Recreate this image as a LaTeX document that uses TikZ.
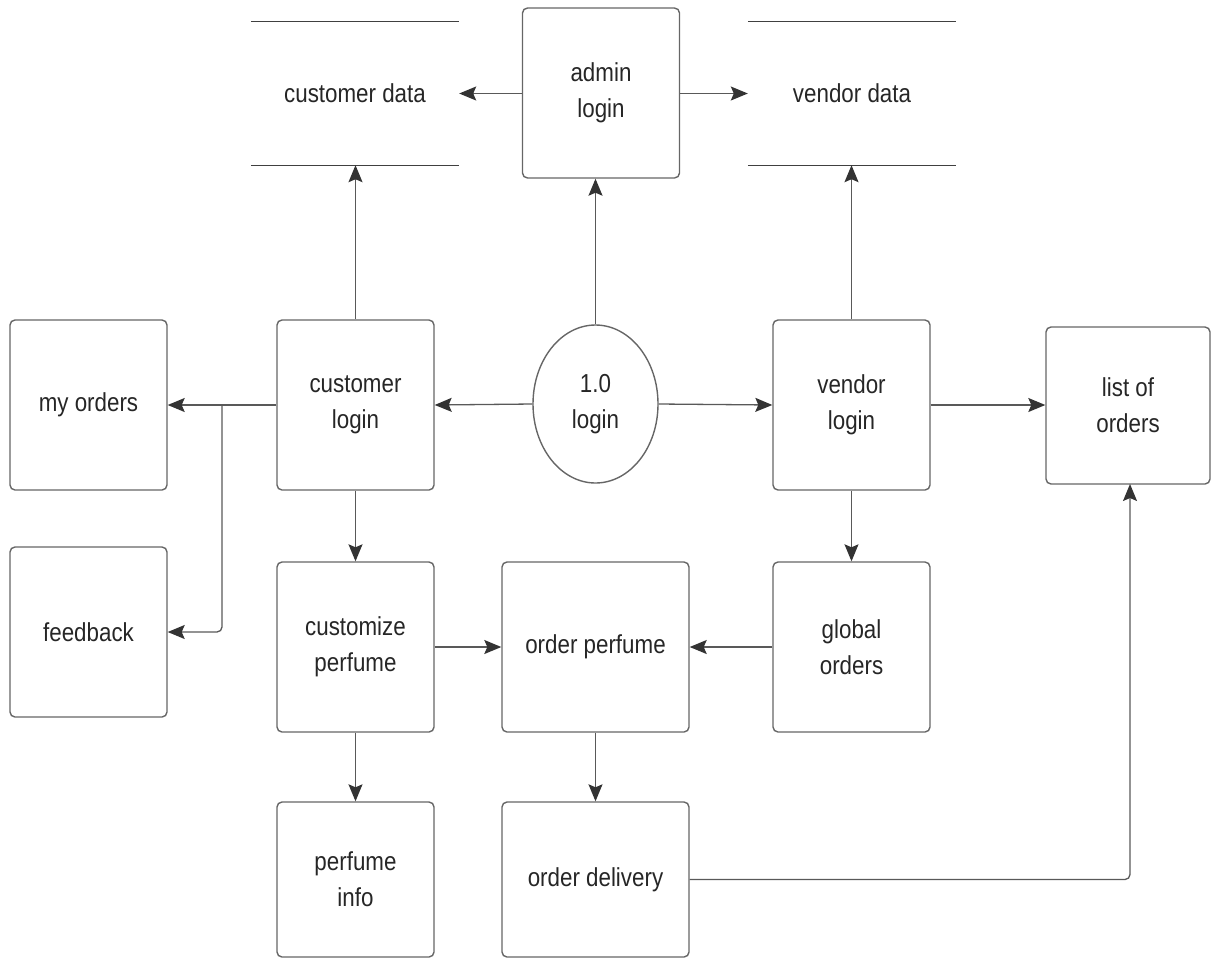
\documentclass[tikz,border=0pt]{standalone}
\usepackage{fontspec}
\setmainfont{Liberation Sans}[FakeStretch=0.86]
\usetikzlibrary{arrows.meta,shapes.geometric}
\begin{document}
\begin{tikzpicture}[x=1pt,y=-1pt,
  every node/.style={font=\fontsize{26}{36}\selectfont, text=black!85, align=center, inner sep=0pt},
  proc/.style={draw=black!60, line width=1.4pt, rounded corners=5pt, minimum width=157pt, minimum height=170pt},
  store/.style={draw=none, minimum width=208pt, minimum height=143pt},
  flow/.style={draw=black!65, line width=1.3pt, -{Stealth[length=17pt,width=14pt,inset=3pt,color=black!80]}},
  storeline/.style={draw=black!75, line width=1.3pt}
]
\useasboundingbox (0,0) rectangle (1212,959);
% stores
\node[store] (cd) at (355,93.5) {customer data};
\draw[storeline] (cd.north west) -- (cd.north east) (cd.south west) -- (cd.south east);
\node[store] (vd) at (852,93.5) {vendor data};
\draw[storeline] (vd.north west) -- (vd.north east) (vd.south west) -- (vd.south east);
% processes
\node[proc] (adm) at (601,93) {admin\\login};
\node[proc] (myo) at (88.5,405) {my orders};
\node[proc] (cl) at (355.5,405) {customer\\login};
\node[ellipse, draw=black!60, line width=1.4pt, minimum width=125pt, minimum height=158pt] (lg) at (595.5,404) {1.0\\login};
\node[proc] (vl) at (851.5,405) {vendor\\login};
\node[proc, minimum width=164pt, minimum height=157pt] (lo) at (1128,405.5) {list of\\orders};
\node[proc] (fb) at (88.5,632) {feedback};
\node[proc] (cp) at (355.5,647) {customize\\perfume};
\node[proc, minimum width=187pt] (op) at (595.5,647) {order perfume\\[-30pt]};
\node[proc] (go) at (851.5,647) {global\\orders};
\node[proc, minimum height=155pt] (pi) at (355.5,879.5) {perfume\\info};
\node[proc, minimum width=187pt, minimum height=155pt] (od) at (595.5,879.5) {order delivery};
% connectors
\draw[flow] (adm.west |- cd.east) -- (cd.east);
\draw[flow] (adm.east |- vd.west) -- (vd.west);
\draw[flow] (cl.north) -- (cl.north |- cd.south);
\draw[flow] (vl.north) -- (vl.north |- vd.south);
\draw[flow] (lg.north) -- (lg.north |- adm.south);
\draw[flow] (lg.west) -- (cl.east);
\draw[flow] (lg.east) -- (vl.west);
\draw[flow] (vl.east) -- (lo.west |- vl.east);
\draw[flow] (cl.west) -- (myo.east);
\coordinate (br) at (222,405);
\draw[flow, rounded corners=5pt] (br) -- (br |- fb.east) -- (fb.east);
\draw[flow] (cl.south) -- (cp.north);
\draw[flow] (vl.south) -- (go.north);
\draw[flow] (cp.east) -- (op.west);
\draw[flow] (go.west) -- (op.east);
\draw[flow] (cp.south) -- (pi.north);
\draw[flow] (op.south) -- (od.north);
\coordinate (lob) at (1130,484);
\draw[flow, rounded corners=5pt] (od.east) -- (lob |- od.east) -- (lob);
\end{tikzpicture}
\end{document}
